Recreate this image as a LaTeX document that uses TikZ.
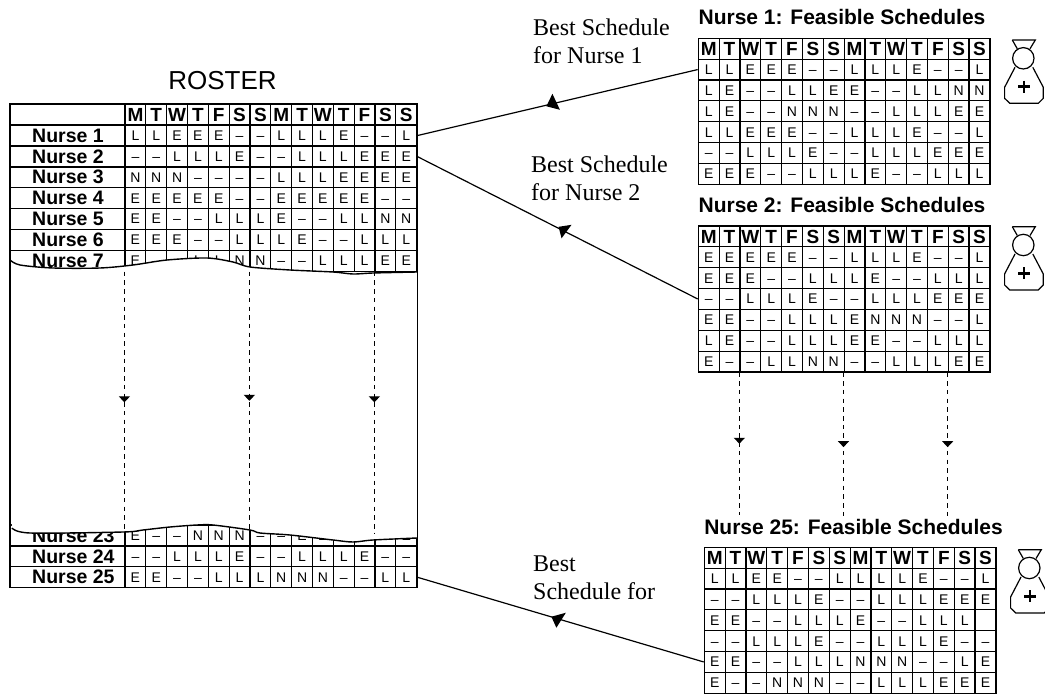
\documentclass[tikz,border=0pt]{standalone}
\usepackage{fontspec}
\setmainfont{Liberation Sans}
\newfontfamily\notefont{Liberation Serif}
\usetikzlibrary{arrows.meta,decorations.markings}
\tikzset{
  cell/.style={draw, line width=1.2pt, minimum width=20.83pt, minimum height=20.85pt, inner sep=0pt,
               text height=10pt, text depth=0pt, font=\fontsize{14}{14}\selectfont},
  headcell/.style={cell, text height=13.5pt, font=\fontsize{19}{19}\selectfont\bfseries},
  namecell/.style={draw, line width=1.2pt, minimum width=114.5pt, minimum height=20.85pt, inner sep=0pt},
  rowname/.style={anchor=west, inner sep=0pt, font=\fontsize{19.5}{20}\selectfont\bfseries},
  tabletitle/.style={inner sep=0pt, font=\fontsize{21}{21}\selectfont\bfseries},
  note/.style={anchor=west, align=left, inner sep=0pt, font=\notefont\fontsize{24}{28}\selectfont},
  link/.style={line width=1.2pt},
  tear/.style={line width=1.4pt},
  flow/.style={line width=1.2pt, dash pattern=on 4.5pt off 4.2pt, postaction={decorate},
    decoration={markings, mark=at position #1 with {\arrow{Triangle[length=6pt,width=11pt]}}}},
  nursefig/.pic={
    \draw[line width=1.2pt] (-11,-18.3) -- (12,-18.3) -- (6.7,-9.5);
    \draw[line width=1.2pt] (-11,-18.3) -- (-6,-9.5);
    \draw[line width=1.2pt] (0,0) circle (10.7);
    \draw[line width=1.2pt] (-8.3,9) -- (-18.7,29) -- (-18.7,40) -- (-13.5,45) -- (15,45) -- (20,40) -- (20,29) -- (9.5,9);
    \draw[line width=2.6pt] (-5.3,28.3) -- (6.7,28.3);
    \draw[line width=2.6pt] (0.7,22.3) -- (0.7,34.3);
  }
}
\newcommand{\headrow}[3]{
  \foreach \v [count=\c] in {M,T,W,T,F,S,S,M,T,W,T,F,S,S}
    \node[headcell] (#1-0-\c) at ({#2+(\c-0.5)*20.83},#3) {\v};
}
\newcommand{\schedtable}[4]{
  \headrow{#1}{#2}{#3+10.4}
  \foreach \cells [count=\n] in {#4}{
    \pgfmathsetmacro{\rowy}{#3+(\n+0.5)*20.85}
    \foreach \v [count=\c] in \cells
      \node[cell] (#1-\n-\c) at ({#2+(\c-0.5)*20.83},\rowy) {\v};
  }
}
\newcommand{\rosterrow}[3]{
  \node[namecell] (roster-#1-0) at (67.75,#2) {};
  \node[rowname] (rostername-#1) at (32,#2) {Nurse #1};
  \foreach \v [count=\c] in {#3}
    \node[cell] (roster-#1-\c) at ({125+(\c-0.5)*20.83},#2) {\v};
}
\begin{document}
\begin{tikzpicture}[x=1pt, y=-1pt, >=Stealth]
  \useasboundingbox (0,0) rectangle (1045,695);
  \node[inner sep=0pt, font=\fontsize{26}{26}\selectfont] (rostertitle) at (222.5,81) {ROSTER};
  \node[namecell] (roster-0-0) at (67.75,114.4) {};
  \headrow{roster}{125}{114.4}
  \rosterrow{1}{135.6}{L,L,E,E,E,–,–,L,L,L,E,–,–,L}
  \rosterrow{2}{156.5}{–,–,L,L,L,E,–,–,L,L,L,E,E,E}
  \rosterrow{3}{177.3}{N,N,N,–,–,–,–,L,L,L,E,E,E,E}
  \rosterrow{4}{198.2}{E,E,E,E,E,–,–,E,E,E,E,E,–,–}
  \rosterrow{5}{219}{E,E,–,–,L,L,L,E,–,–,L,L,N,N}
  \rosterrow{6}{239.9}{E,E,E,–,–,L,L,L,E,–,–,L,L,L}
  \rosterrow{7}{260.7}{E,–,–,L,L,N,N,–,–,L,L,L,E,E}
  \rosterrow{23}{535.5}{E,–,–,N,N,N,–,–,E,E,E,E,E,E}
  \rosterrow{24}{556.4}{–,–,L,L,L,E,–,–,L,L,L,E,–,–}
  \rosterrow{25}{577.2}{E,E,–,–,L,L,L,N,N,N,–,–,L,L}
  \fill[white] plot[smooth] coordinates {(10,260) (20,265) (53,268) (100,268) (133,265) (167,260) (207,258) (233,262) (250,267) (290,270) (333,272) (353,274) (373,273) (417,272)}
    -- plot[smooth] coordinates {(417,538) (373,540) (353,542) (333,540) (290,535) (260,533) (250,530) (213,525) (197,525) (170,527) (143,530) (123,532) (30,533) (12,528)} -- cycle;
  \draw[tear] plot[smooth] coordinates {(10,260) (20,265) (53,268) (100,268) (133,265) (167,260) (207,258) (233,262) (250,267) (290,270) (333,272) (353,274) (373,273) (417,272)};
  \draw[tear] plot[smooth] coordinates {(12,528) (30,533) (123,532) (143,530) (170,527) (197,525) (213,525) (250,530) (260,533) (290,535) (333,540) (353,542) (373,540) (417,538)};
  \draw[line width=1.2pt] (roster-0-0.north west) -- (roster-25-0.south west);
  \draw[line width=1.2pt] (roster-0-14.north east) -- (roster-25-14.south east);

  \node[tabletitle] (titleone) at (842,17) {Nurse 1: Feasible Schedules};
  \schedtable{schedone}{698.3}{38.3}{{L,L,E,E,E,–,–,L,L,L,E,–,–,L},{L,E,–,–,L,L,E,E,–,–,L,L,N,N},{L,E,–,–,N,N,N,–,–,L,L,L,E,E},{L,L,E,E,E,–,–,L,L,L,E,–,–,L},{–,–,L,L,L,E,–,–,L,L,L,E,E,E},{E,E,E,–,–,L,L,L,E,–,–,L,L,L}}
  \pic (nurseone) at (1023.3,58.3) {nursefig};

  \node[tabletitle] (titletwo) at (842,205) {Nurse 2: Feasible Schedules};
  \schedtable{schedtwo}{698.3}{226}{{E,E,E,E,E,–,–,L,L,L,E,–,–,L},{E,E,E,–,–,L,L,L,E,–,–,L,L,L},{–,–,L,L,L,E,–,–,L,L,L,E,E,E},{E,E,–,–,L,L,L,E,N,N,N,–,–,L},{L,E,–,–,L,L,L,E,E,–,–,L,L,L},{E,–,–,L,L,N,N,–,–,L,L,L,E,E}}
  \pic (nursetwo) at (1023.3,245) {nursefig};

  \node[tabletitle] (titlelast) at (853.5,527) {Nurse 25: Feasible Schedules};
  \schedtable{schedlast}{704.3}{547.3}{{L,L,E,E,–,–,L,L,L,L,E,–,–,L},{–,–,L,L,L,E,–,–,L,L,L,E,E,E},{E,E,–,–,L,L,L,E,–,–,L,L,L,{}},{–,–,L,L,L,E,–,–,L,L,L,E,–,–},{E,E,–,–,L,L,L,N,N,N,–,–,L,E},{E,–,–,N,N,N,–,–,L,L,L,E,E,E}}
  \pic (nurselast) at (1029.3,568) {nursefig};

  \node[note] (noteone) at (533,41) {Best Schedule\\for Nurse 1};
  \node[note] (notetwo) at (531,178) {Best Schedule\\for Nurse 2};
  \node[note] (notelast) at (533,578) {Best\\Schedule for};

  \draw[link] (schedone-1-1.west) -- coordinate[pos=.518] (headone) (roster-1-14.east);
  \draw[link] (schedtwo-3-1.west) -- coordinate[pos=.489] (headtwo) (roster-2-14.east);
  \draw[link] (schedlast-5-1.west) -- coordinate[pos=.516] (headlast) (roster-25-14.east);
  \fill (headone) ++(0,-10) -- ++(-6,12.5) -- ++(13.5,3.5) -- cycle;
  \fill (headtwo) ++(-2,-2.5) -- ++(13,-2) -- ++(-10,13.5) -- cycle;
  \fill (headlast) ++(-4.5,-1.5) -- ++(14.5,-4) -- ++(-9.5,15) -- cycle;

  \coordinate (rosterenda) at (roster-7-1.south west |- 0,533);
  \coordinate (rosterendb) at (roster-7-7.south west |- 0,530);
  \coordinate (rosterendc) at (roster-7-13.south west |- 0,533);
  \draw[flow=.5] (roster-7-1.south west) -- (rosterenda);
  \draw[flow=.5] (roster-7-7.south west) -- (rosterendb);
  \draw[flow=.5] (roster-7-13.south west) -- (rosterendc);

  \coordinate (schedenda) at (schedtwo-6-3.south west |- 0,515);
  \coordinate (schedendb) at (schedtwo-6-8.south west |- 0,516);
  \coordinate (schedendc) at (schedtwo-6-13.south west |- 0,516);
  \draw[flow=.5] (schedtwo-6-3.south west) -- (schedenda);
  \draw[flow=.52] (schedtwo-6-8.south west) -- (schedendb);
  \draw[flow=.52] (schedtwo-6-13.south west) -- (schedendc);
\end{tikzpicture}
\end{document}
